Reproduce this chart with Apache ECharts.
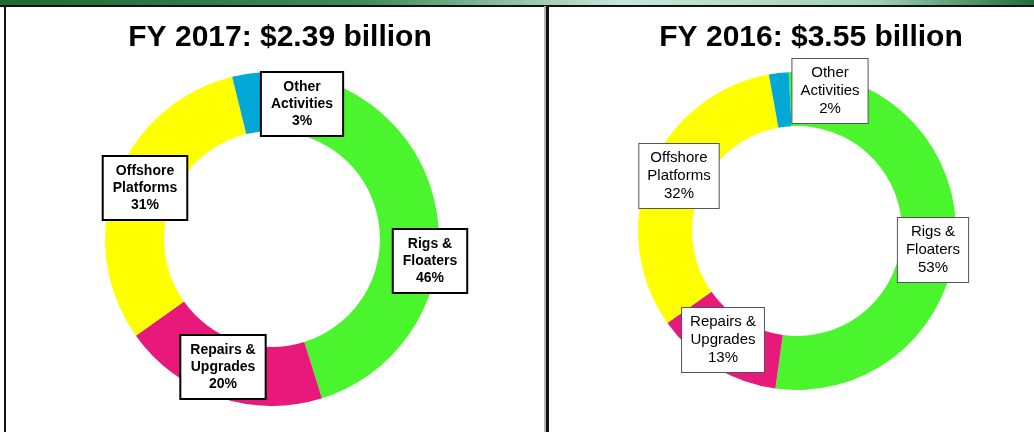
<!DOCTYPE html>
<html>
<head>
<meta charset="utf-8">
<script src="https://cdn.jsdelivr.net/npm/echarts@6/dist/echarts.min.js"></script>
<style>
html,body{margin:0;padding:0;background:#fff;}
#c{width:1034px;height:432px;}
</style>
</head>
<body>
<div id="c"></div>
<script>
// ---- data ----
const categories = ['Rigs &\nFloaters', 'Repairs &\nUpgrades', 'Offshore\nPlatforms', 'Other\nActivities'];
const fy2017Share = [46, 20, 31, 3];
const fy2016Share = [53, 13, 32, 2];
const titles = ['FY 2017: $2.39 billion', 'FY 2016: $3.55 billion'];
const sliceColors = ['#4af52e', '#e8197a', '#ffff00', '#04a8d6'];

// ---- layout (label box centres, px) ----
const leftLabelPos = [[430, 261], [223, 367], [145, 188], [302, 104]];
const rightLabelPos = [[933, 250], [723, 340], [679, 176], [830, 91]];

function buildData(vals) {
  return categories.map((c, i) => ({ name: c, value: vals[i], itemStyle: { color: sliceColors[i] } }));
}

const chart = echarts.init(document.getElementById('c'), null, { renderer: 'canvas' });
const option = {
  animation: false,
  backgroundColor: '#ffffff',
  title: [
    { text: titles[0], left: 275, top: 18, textAlign: 'center',
      textStyle: { fontFamily: 'Liberation Sans, Arial, sans-serif', fontSize: 30, fontWeight: 'bold', color: '#000' } },
    { text: titles[1], left: 806, top: 18, textAlign: 'center',
      textStyle: { fontFamily: 'Liberation Sans, Arial, sans-serif', fontSize: 30, fontWeight: 'bold', color: '#000' } }
  ],
  graphic: [
    { type: 'rect', shape: { x: 0, y: 0, width: 1034, height: 5 }, z: 10,
      style: { fill: new echarts.graphic.LinearGradient(0, 0, 1, 0, [
        { offset: 0, color: '#1d6a34' }, { offset: 0.35, color: '#3f8a5a' },
        { offset: 0.6, color: '#c9e8d8' }, { offset: 0.85, color: '#9fd0b4' }, { offset: 1, color: '#1f6b3a' }]) } },
    { type: 'rect', shape: { x: 0, y: 5, width: 1034, height: 2 }, z: 10, style: { fill: '#111' } },
    { type: 'rect', shape: { x: 4, y: 6, width: 2, height: 426 }, z: 10, style: { fill: '#111' } },
    { type: 'rect', shape: { x: 544, y: 6, width: 2, height: 426 }, z: 10, style: { fill: '#b5b5b5' } },
    { type: 'rect', shape: { x: 546, y: 6, width: 3, height: 426 }, z: 10, style: { fill: '#111' } }
  ],
  series: [
    {
      type: 'pie',
      center: [272, 239],
      radius: [108, 167],
      startAngle: 93,
      clockwise: true,
      avoidLabelOverlap: false,
      itemStyle: { borderWidth: 0 },
      emphasis: { disabled: true },
      labelLine: { show: false },
      label: {
        show: true,
        formatter: '{b}\n{c}%',
        fontFamily: 'Liberation Sans, Arial, sans-serif',
        fontSize: 14,
        fontWeight: 'bold',
        lineHeight: 17,
        color: '#000',
        align: 'center',
        backgroundColor: '#fff',
        borderColor: '#000',
        borderWidth: 2,
        padding: [6, 9, 5, 9]
      },
      labelLayout: (p) => ({ x: leftLabelPos[p.dataIndex][0], y: leftLabelPos[p.dataIndex][1], align: 'center', verticalAlign: 'middle' }),
      data: buildData(fy2017Share)
    },
    {
      type: 'pie',
      center: [797, 231],
      radius: [105, 159],
      startAngle: 93,
      clockwise: true,
      avoidLabelOverlap: false,
      itemStyle: { borderWidth: 0 },
      emphasis: { disabled: true },
      labelLine: { show: false },
      label: {
        show: true,
        formatter: '{b}\n{c}%',
        fontFamily: 'Liberation Sans, Arial, sans-serif',
        fontSize: 15,
        fontWeight: 'normal',
        lineHeight: 18,
        color: '#000',
        align: 'center',
        backgroundColor: '#fff',
        borderColor: '#555',
        borderWidth: 1,
        padding: [5, 8, 5, 8]
      },
      labelLayout: (p) => ({ x: rightLabelPos[p.dataIndex][0], y: rightLabelPos[p.dataIndex][1], align: 'center', verticalAlign: 'middle' }),
      data: buildData(fy2016Share)
    }
  ]
};
chart.setOption(option);
</script>
</body>
</html>
